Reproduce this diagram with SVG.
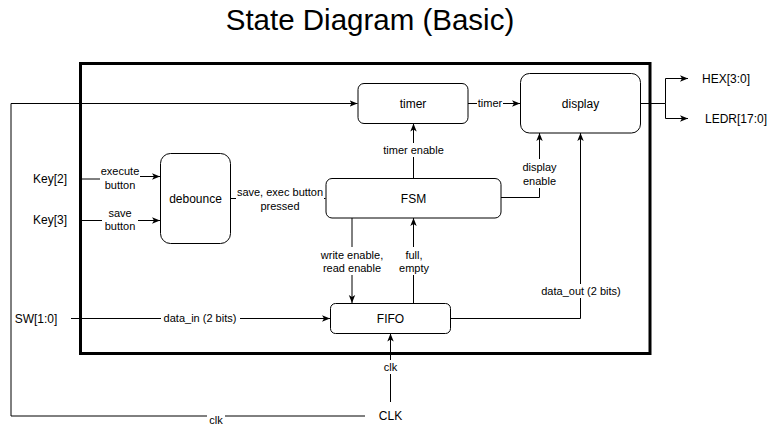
<svg xmlns="http://www.w3.org/2000/svg" width="780" height="431" viewBox="0 0 780 431">
<defs>
<marker id="arr" viewBox="0 0 10 10" refX="10" refY="5" markerWidth="8" markerHeight="8" orient="auto" markerUnits="userSpaceOnUse">
<path d="M0,1 L10,5 L0,9 L2.5,5 z" fill="#000"/>
</marker>
<style>
text{font-family:"Liberation Sans",Arial,Helvetica,sans-serif;fill:#000}
.node{fill:#fff;stroke:#000;stroke-width:1}
.nl{font-size:12px;text-anchor:middle;dominant-baseline:central}
.el{font-size:11px;text-anchor:middle;dominant-baseline:central}
.io{font-size:12px;dominant-baseline:central}
.edge{fill:none;stroke:#000;stroke-width:1}
.bg{fill:#fff;stroke:none}
</style>
</defs>
<rect width="780" height="431" fill="#fff"/>
<text x="370" y="30" font-size="29.5" text-anchor="middle">State Diagram (Basic)</text>
<rect id="frame" x="80.5" y="63.5" width="569.5" height="290" fill="none" stroke="#000" stroke-width="3"/>

<g id="connectors">
<path class="edge" d="M365 416 H11 V103.5 H357.5" marker-end="url(#arr)"/>
<path class="edge" d="M390.5 402 V333.5" marker-end="url(#arr)"/>
<path class="edge" d="M81 179 H120 V176.5 H160" marker-end="url(#arr)"/>
<path class="edge" d="M81 220.5 H160" marker-end="url(#arr)"/>
<path class="edge" d="M230.5 198.5 H325.5" marker-end="url(#arr)"/>
<path class="edge" d="M413.5 178 V123.5" marker-end="url(#arr)"/>
<path class="edge" d="M468 103.5 H520" marker-end="url(#arr)"/>
<path class="edge" d="M501 197.5 H539.5 V133" marker-end="url(#arr)"/>
<path class="edge" d="M352 218 V303" marker-end="url(#arr)"/>
<path class="edge" d="M413.5 303 V218" marker-end="url(#arr)"/>
<path class="edge" d="M71 318.5 H330" marker-end="url(#arr)"/>
<path class="edge" d="M451 318.5 H580.5 V133" marker-end="url(#arr)"/>
<path class="edge" d="M641 103.5 H665.5 V78.5 H688" marker-end="url(#arr)"/>
<path class="edge" d="M665.5 103.5 V118.5 H688" marker-end="url(#arr)"/>

<rect class="bg" x="207" y="413" width="18" height="14"/>
<text class="el" x="216" y="420">clk</text>
<rect class="bg" x="381" y="360" width="19" height="14"/>
<text class="el" x="390.5" y="367">clk</text>
<rect class="bg" x="100" y="164" width="40" height="28"/>
<text class="el" x="120" y="171">execute</text>
<text class="el" x="120" y="185">button</text>
<rect class="bg" x="102" y="205" width="36" height="28"/>
<text class="el" x="120" y="213">save</text>
<text class="el" x="120" y="226">button</text>
<rect class="bg" x="236" y="184" width="88" height="28"/>
<text class="el" x="280" y="192">save, exec button</text>
<text class="el" x="280" y="206">pressed</text>
<rect class="bg" x="382" y="143" width="63" height="14"/>
<text class="el" x="413.5" y="150">timer enable</text>
<rect class="bg" x="477" y="96" width="26" height="14"/>
<text class="el" x="490" y="103">timer</text>
<rect class="bg" x="521" y="159" width="37" height="29"/>
<text class="el" x="539.5" y="167">display</text>
<text class="el" x="539.5" y="181">enable</text>
<rect class="bg" x="320" y="247" width="64" height="28"/>
<text class="el" x="352" y="255">write enable,</text>
<text class="el" x="352" y="268">read enable</text>
<rect class="bg" x="399" y="247" width="30" height="28"/>
<text class="el" x="414" y="255">full,</text>
<text class="el" x="414" y="268">empty</text>
<rect class="bg" x="161" y="311" width="79" height="14"/>
<text class="el" x="200" y="318">data_in (2 bits)</text>
<rect class="bg" x="540" y="284" width="82" height="14"/>
<text class="el" x="581" y="291">data_out (2 bits)</text>
</g>

<g id="timer"><rect class="node" x="358" y="83.5" width="110" height="40" rx="6"/><text class="nl" x="413" y="103.5">timer</text></g>
<g id="display"><rect class="node" x="520.5" y="73.5" width="120" height="59.5" rx="9"/><text class="nl" x="580.5" y="103.5">display</text></g>
<g id="fsm"><rect class="node" x="326" y="178.5" width="175" height="39.5" rx="6"/><text class="nl" x="413.5" y="198.5">FSM</text></g>
<g id="debounce"><rect class="node" x="160.5" y="153.5" width="70" height="90" rx="10"/><text class="nl" x="195.5" y="198.5">debounce</text></g>
<g id="fifo"><rect class="node" x="330.5" y="303.5" width="120" height="30" rx="5"/><text class="nl" x="390.5" y="318.5">FIFO</text></g>

<g id="key2"><text class="io" x="50" y="179" text-anchor="middle">Key[2]</text></g>
<g id="key3"><text class="io" x="50" y="220" text-anchor="middle">Key[3]</text></g>
<g id="sw"><text class="io" x="36" y="318.5" text-anchor="middle">SW[1:0]</text></g>
<g id="clk"><text class="io" x="390.5" y="416" text-anchor="middle">CLK</text></g>
<g id="hex"><text class="io" x="702" y="78.5">HEX[3:0]</text></g>
<g id="ledr"><text class="io" x="705" y="118.5">LEDR[17:0]</text></g>
</svg>
